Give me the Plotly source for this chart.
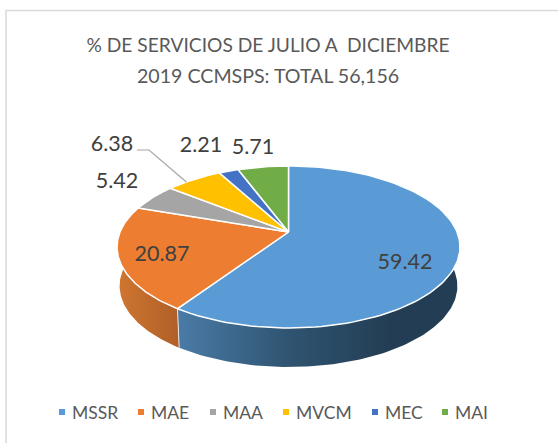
import numpy as np
import plotly.graph_objects as go

categories = ["MSSR", "MAE", "MAA", "MVCM", "MEC", "MAI"]
values = [59.42, 20.87, 5.42, 6.38, 2.21, 5.71]
colors = ["#5B9BD5", "#ED7D31", "#A5A5A5", "#FFC000", "#4472C4", "#70AD47"]
value_labels = ["59.42", "20.87", "5.42", "6.38", "2.21", "5.71"]
label_x = [405, 162, 117, 112, 201, 253]
label_y = [264, 256, 183, 146, 147, 149]
legend_marker_x = [62, 141, 213, 286, 375, 445]
title_lines = ["% DE SERVICIOS DE JULIO A  DICIEMBRE", "2019 CCMSPS: TOTAL 56,156"]

CX, R, K, A, B = 288.5, 168.5, 0.185, 35.3, 232.0
DEPTH, BOTTOM_SCALE = 39.0, 0.985
TEXT = "#595959"
FONT = "Lato"


def rim(theta):
    """Project a bearing (clockwise from top) on to the tilted disc."""
    u, v = np.sin(theta), -np.cos(theta)
    w = 1 - K * v
    return CX + R * u / w, (A * v + B) / w


total = sum(values)
edges = np.concatenate([[0], np.cumsum(values)]) / total * 2 * np.pi
fig = go.Figure()

# side walls of the front-facing slices
wall_gradients = {
    0: [[0, "#4a7ba6"], [0.4, "#2f5370"], [0.75, "#233e54"], [1, "#233e54"]],
    1: [[0, "#cf7630"], [1, "#b05f28"]],
}
wall_limits = {0: (np.radians(60), edges[1]), 1: (edges[1], np.radians(300))}
for i, (t0, t1) in wall_limits.items():
    t = np.linspace(t0, t1, 120)
    x, y = rim(t)
    xb = CX + (x - CX) * BOTTOM_SCALE
    yb = y + DEPTH
    fig.add_trace(go.Scatter(
        x=np.concatenate([x, xb[::-1]]), y=np.concatenate([y, yb[::-1]]),
        mode="lines", fill="toself", line=dict(width=0),
        fillgradient=dict(type="horizontal", colorscale=wall_gradients[i]),
        hoverinfo="skip", showlegend=False))
# seam between the two walls
sx, sy = rim(edges[1])
fig.add_trace(go.Scatter(
    x=[sx, CX + (sx - CX) * BOTTOM_SCALE], y=[sy, sy + DEPTH], mode="lines",
    line=dict(color="#e9e9e9", width=1), hoverinfo="skip", showlegend=False))

# top faces
for i, c in enumerate(colors):
    t = np.linspace(edges[i], edges[i + 1], 120)
    x, y = rim(t)
    fig.add_trace(go.Scatter(
        x=np.concatenate([[CX], x, [CX]]), y=np.concatenate([[B], y, [B]]),
        mode="lines", fill="toself", fillcolor=c,
        line=dict(color="white", width=1.5), name=categories[i],
        hoverinfo="name", showlegend=False))

# leader line for the 6.38 label
lead_t = (edges[3] + edges[4]) / 2 - 0.06
lx, ly = rim(lead_t)
fig.add_trace(go.Scatter(
    x=[137, 149, lx], y=[150, 150, ly], mode="lines",
    line=dict(color="#a6a6a6", width=1.2), hoverinfo="skip", showlegend=False))

# value labels
fig.add_trace(go.Scatter(
    x=label_x, y=label_y, mode="text", text=value_labels,
    textposition="middle center", textfont=dict(family=FONT, size=21.5, color="#404040"),
    hoverinfo="skip", showlegend=False))

# legend
fig.add_trace(go.Scatter(
    x=legend_marker_x, y=[412] * 6, mode="markers",
    marker=dict(symbol="square", size=6, color=colors),
    hoverinfo="skip", showlegend=False))
fig.add_trace(go.Scatter(
    x=[m + 10 for m in legend_marker_x], y=[415] * 6, mode="text", text=categories,
    textposition="middle right", textfont=dict(family=FONT, size=17.5, color=TEXT),
    hoverinfo="skip", showlegend=False))

fig.update_layout(
    width=558, height=443, margin=dict(l=0, r=0, t=0, b=0), autosize=False,
    paper_bgcolor="white", plot_bgcolor="white", showlegend=False,
    title=dict(text=title_lines[0], x=268 / 558, xanchor="center",
               y=1 - 45 / 443, yanchor="middle",
               font=dict(family=FONT, size=19.2, color=TEXT)),
    annotations=[dict(text=title_lines[1], xref="paper", yref="paper",
                      x=268 / 558, y=1 - 75 / 443, xanchor="center", yanchor="middle",
                      showarrow=False, font=dict(family=FONT, size=19.6, color=TEXT))],
    xaxis=dict(range=[0, 558], visible=False, fixedrange=True),
    yaxis=dict(range=[443, 0], visible=False, fixedrange=True),
    shapes=[dict(type="rect", xref="paper", yref="paper", layer="below",
                 x0=6 / 558, x1=1.02, y0=-0.02, y1=1 - 10.5 / 443,
                 line=dict(color="#d9d9d9", width=1.5))],
)
fig.write_html("out.html", config=dict(displayModeBar=False),
               post_script="document.body.style.margin='0';document.documentElement.style.overflow='hidden';")
